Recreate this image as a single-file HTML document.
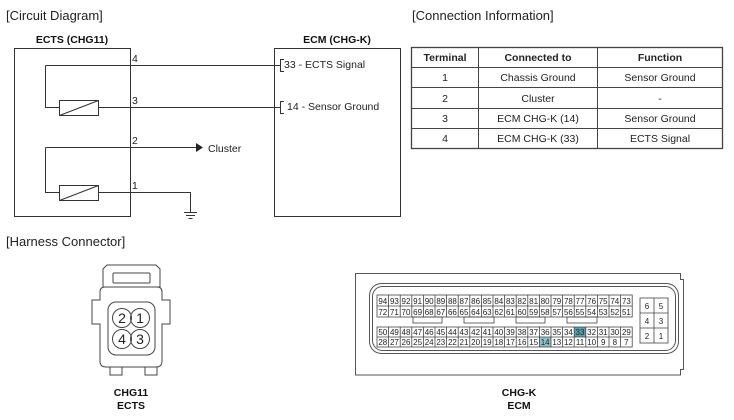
<!DOCTYPE html>
<html><head><meta charset="utf-8"><style>
body{margin:0;background:#fff}
svg{display:block;font-family:"Liberation Sans",sans-serif}
</style></head><body>
<svg width="734" height="420" viewBox="0 0 734 420" xmlns="http://www.w3.org/2000/svg">
<g fill="#222" font-size="13">
<text x="6" y="20">[Circuit Diagram]</text>
<text x="412" y="20">[Connection Information]</text>
<text x="6" y="246">[Harness Connector]</text>
</g>
<g font-size="10.5" font-weight="bold" fill="#111" text-anchor="middle">
<text x="72" y="43">ECTS (CHG11)</text>
<text x="337" y="43">ECM (CHG-K)</text>
</g>
<g fill="none" stroke="#333" stroke-width="1">
<rect x="14.5" y="48.5" width="116" height="168"/>
<rect x="274.5" y="48.5" width="126" height="168"/>
<path d="M45.5 65.5H280 M45.5 65.5V107.5H59 M98 107.5H280 M45.5 147.5V192.5H59 M98 192.5H190.5V212 M45.5 147.5H196"/>
<rect x="59.5" y="100.5" width="39" height="15"/>
<rect x="59.5" y="185.5" width="39" height="15"/>
<path d="M59.5 115.5L98.5 100.5 M59.5 200.5L98.5 185.5"/>
<path d="M284 59.5h-3.5v12h3.5 M284 101.5h-3.5v12h3.5"/>
<path d="M184 212.5h13 M186 215.5h9 M188.5 218.5h4"/>
</g>
<path d="M196 143v9l7-4.5z" fill="#222"/>
<g font-size="10.5" fill="#222">
<text x="132" y="62">4</text><text x="132" y="104">3</text><text x="132" y="144">2</text><text x="132" y="189">1</text>
<text x="284" y="68">33 - ECTS Signal</text>
<text x="287" y="110">14 - Sensor Ground</text>
<text x="208" y="152">Cluster</text>
</g>
<!-- table -->
<g fill="none" stroke="#444" stroke-width="1">
<rect x="411.5" y="47.5" width="311" height="101" stroke-width="1.3"/>
<path d="M478.5 47.5V148.5 M597.5 47.5V148.5 M411.5 67.5H722.5 M411.5 87.5H722.5 M411.5 108.5H722.5 M411.5 128.5H722.5"/>
</g>
<g font-size="10.5" fill="#222" text-anchor="middle">
<g font-weight="bold"><text x="445" y="61">Terminal</text><text x="538" y="61">Connected to</text><text x="660" y="61">Function</text></g>
<text x="445" y="81">1</text><text x="538" y="81">Chassis Ground</text><text x="660" y="81">Sensor Ground</text>
<text x="445" y="102">2</text><text x="538" y="102">Cluster</text><text x="660" y="102">-</text>
<text x="445" y="122">3</text><text x="538" y="122">ECM CHG-K (14)</text><text x="660" y="122">Sensor Ground</text>
<text x="445" y="142">4</text><text x="538" y="142">ECM CHG-K (33)</text><text x="660" y="142">ECTS Signal</text>
</g>
<!-- CHG11 connector -->
<g fill="none" stroke="#444" stroke-width="1">
<path d="M107 265h49l4 4v18h-57v-18z"/>
<rect x="113" y="273" width="37" height="10" rx="1"/>
<path d="M106 287h51q5 0 5 5v8h8v24h-8v37q0 6-6 6h-50q-6 0-6-6v-37h-8v-24h8v-8q0-5 5-5z"/>
<rect x="108" y="302" width="47" height="53" rx="8"/>
<path d="M110 367v8h12v-8 M145 367v8h12v-8"/>
<circle cx="122" cy="318" r="9.5"/><circle cx="140" cy="318" r="9.5"/>
<circle cx="122" cy="339" r="9.5"/><circle cx="140" cy="339" r="9.5"/>
</g>
<g font-size="14" fill="#222" text-anchor="middle">
<text x="122" y="323">2</text><text x="140" y="323">1</text><text x="122" y="344">4</text><text x="140" y="344">3</text>
</g>
<g font-size="10.5" font-weight="bold" fill="#111" text-anchor="middle">
<text x="131" y="396">CHG11</text><text x="131" y="409">ECTS</text>
<text x="519" y="396">CHG-K</text><text x="519" y="409">ECM</text>
</g>
<!-- CHG-K connector -->
<g fill="none" stroke="#555" stroke-width="1">
<path d="M355.5 273.5H680.5v6h3v90h-3v5.5H355.5z"/>
<rect x="369.5" y="283.5" width="309" height="70" rx="12"/>
<rect x="372.5" y="286.5" width="303" height="64" rx="10"/>
</g>
<rect x="539.4" y="337" width="11.6" height="10" fill="#8cc4c8"/>
<rect x="574.2" y="327" width="11.6" height="10" fill="#5aa3ad"/>
<g fill="none" stroke="#444" stroke-width="0.8">
<rect x="377" y="295" width="255.2" height="22"/>
<rect x="377" y="327" width="255.2" height="20"/>
<path d="M377 306H632.2 M377 337H632.2"/>
<path d="M388.6 295v22M400.2 295v22M411.8 295v22M423.4 295v22M435 295v22M446.6 295v22M458.2 295v22M469.8 295v22M481.4 295v22M493 295v22M504.6 295v22M516.2 295v22M527.8 295v22M539.4 295v22M551 295v22M562.6 295v22M574.2 295v22M585.8 295v22M597.4 295v22M609 295v22M620.6 295v22"/>
<path d="M388.6 327v20M400.2 327v20M411.8 327v20M423.4 327v20M435 327v20M446.6 327v20M458.2 327v20M469.8 327v20M481.4 327v20M493 327v20M504.6 327v20M516.2 327v20M527.8 327v20M539.4 327v20M551 327v20M562.6 327v20M574.2 327v20M585.8 327v20M597.4 327v20M609 327v20M620.6 327v20"/>
<rect x="413" y="317" width="29" height="6"/><rect x="464" y="317" width="30" height="6"/>
<rect x="516" y="317" width="29" height="6"/><rect x="567" y="317" width="30" height="6"/>
<rect x="640" y="298" width="28" height="45"/>
<path d="M640 313h28M640 328h28M654 298v45"/>
</g>
<g font-size="8" fill="#222" text-anchor="middle">
<g transform="translate(0,304)"><text x="382.8">94</text><text x="394.4">93</text><text x="406">92</text><text x="417.6">91</text><text x="429.2">90</text><text x="440.8">89</text><text x="452.4">88</text><text x="464">87</text><text x="475.6">86</text><text x="487.2">85</text><text x="498.8">84</text><text x="510.4">83</text><text x="522">82</text><text x="533.6">81</text><text x="545.2">80</text><text x="556.8">79</text><text x="568.4">78</text><text x="580">77</text><text x="591.6">76</text><text x="603.2">75</text><text x="614.8">74</text><text x="626.4">73</text></g>
<g transform="translate(0,315)"><text x="382.8">72</text><text x="394.4">71</text><text x="406">70</text><text x="417.6">69</text><text x="429.2">68</text><text x="440.8">67</text><text x="452.4">66</text><text x="464">65</text><text x="475.6">64</text><text x="487.2">63</text><text x="498.8">62</text><text x="510.4">61</text><text x="522">60</text><text x="533.6">59</text><text x="545.2">58</text><text x="556.8">57</text><text x="568.4">56</text><text x="580">55</text><text x="591.6">54</text><text x="603.2">53</text><text x="614.8">52</text><text x="626.4">51</text></g>
<g transform="translate(0,335)"><text x="382.8">50</text><text x="394.4">49</text><text x="406">48</text><text x="417.6">47</text><text x="429.2">46</text><text x="440.8">45</text><text x="452.4">44</text><text x="464">43</text><text x="475.6">42</text><text x="487.2">41</text><text x="498.8">40</text><text x="510.4">39</text><text x="522">38</text><text x="533.6">37</text><text x="545.2">36</text><text x="556.8">35</text><text x="568.4">34</text><text x="580">33</text><text x="591.6">32</text><text x="603.2">31</text><text x="614.8">30</text><text x="626.4">29</text></g>
<g transform="translate(0,345)"><text x="382.8">28</text><text x="394.4">27</text><text x="406">26</text><text x="417.6">25</text><text x="429.2">24</text><text x="440.8">23</text><text x="452.4">22</text><text x="464">21</text><text x="475.6">20</text><text x="487.2">19</text><text x="498.8">18</text><text x="510.4">17</text><text x="522">16</text><text x="533.6">15</text><text x="545.2">14</text><text x="556.8">13</text><text x="568.4">12</text><text x="580">11</text><text x="591.6">10</text><text x="603.2">9</text><text x="614.8">8</text><text x="626.4">7</text></g>
<text x="647" y="309">6</text><text x="661" y="309">5</text>
<text x="647" y="324">4</text><text x="661" y="324">3</text>
<text x="647" y="339">2</text><text x="661" y="339">1</text>
</g>
</svg>
</body></html>
